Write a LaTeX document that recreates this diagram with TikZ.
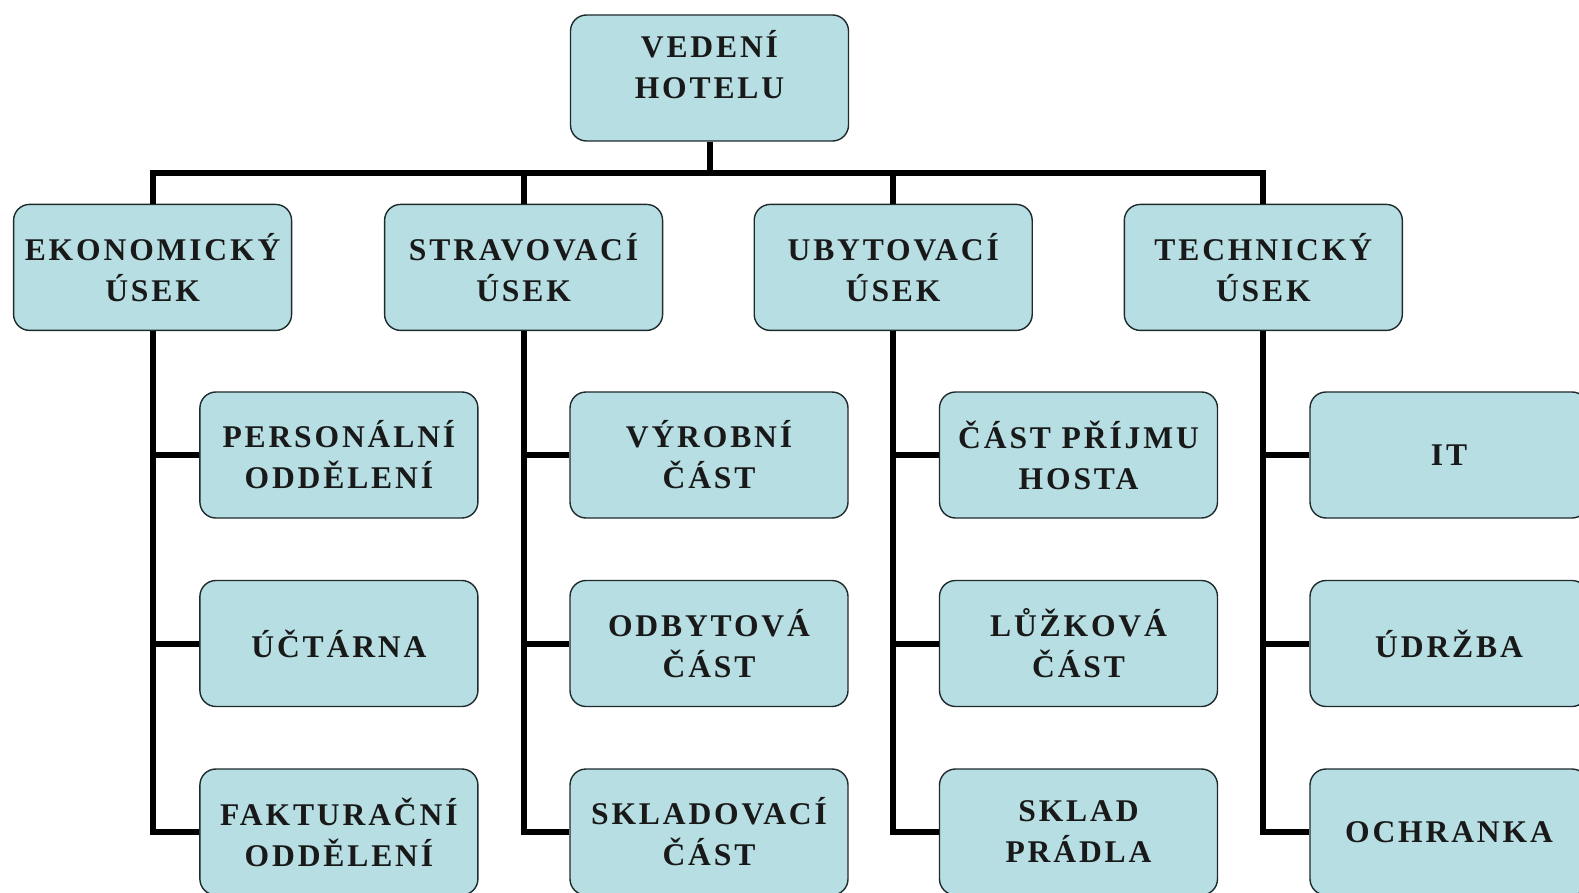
\documentclass[tikz,border=0pt]{standalone}
\usepackage{fontspec}
\newfontfamily\boxfont{Liberation Serif}[LetterSpace=9]
\definecolor{boxfill}{HTML}{B7DEE2}
\definecolor{boxline}{HTML}{1E2A2C}
\tikzset{
  box text/.style={align=center, inner sep=0pt,
    font=\boxfont\bfseries\fontsize{15.8}{20.5}\selectfont, text=black!90},
  unit box/.style={box text, draw=boxline, line width=0.7pt, fill=boxfill, rounded corners=8pt,
    minimum width=139pt, minimum height=63pt},
  link/.style={line width=3pt, draw=black}
}
\begin{document}
\begin{tikzpicture}[x=0.5pt, y=-0.5pt]
\useasboundingbox (0,0) rectangle (1579,893);
\coordinate (bus) at (0,173);
\node[unit box] (top) at (709.5,78) {};
\node[box text] (toptext) at (709.5,65) {VEDENÍ\\HOTELU};
\node[unit box] (ek) at (152.6,267.4) {EKONOMICKÝ\\ÚSEK};
\node[unit box] (st) at (523.6,267.4) {STRAVOVACÍ\\ÚSEK};
\node[unit box] (ub) at (893.2,267.4) {UBYTOVACÍ\\ÚSEK};
\node[unit box] (te) at (1263.3,267.4) {TECHNICKÝ\\ÚSEK};
\node[unit box] (ek1) at (338.9,455) {PERSONÁLNÍ\\ODDĚLENÍ};
\node[unit box] (ek2) at (338.9,643.5) {ÚČTÁRNA};
\node[unit box] (ek3) at (338.9,832) {FAKTURAČNÍ\\ODDĚLENÍ};
\node[unit box] (st1) at (709,455) {VÝROBNÍ\\ČÁST};
\node[unit box] (st2) at (709,643.5) {ODBYTOVÁ\\ČÁST};
\node[unit box] (st3) at (709,832) {SKLADOVACÍ\\ČÁST};
\node[unit box] (ub1) at (1078.5,455) {ČÁST PŘÍJMU\\HOSTA};
\node[unit box] (ub2) at (1078.5,643.5) {LŮŽKOVÁ\\ČÁST};
\node[unit box] (ub3) at (1078.5,832) {SKLAD\\PRÁDLA};
\node[unit box] (te1) at (1449,455) {IT};
\node[unit box] (te2) at (1449,643.5) {ÚDRŽBA};
\node[unit box] (te3) at (1449,832) {OCHRANKA};
% connectors
\draw[link] (top.south) -- (top.south |- bus);
\draw[link] (ek.north) -- (ek.north |- bus) -- (te.north |- bus) -- (te.north);
\draw[link] (st.north) -- (st.north |- bus);
\draw[link] (ub.north) -- (ub.north |- bus);
\foreach \p in {ek,st,ub,te}{
  \draw[link] (\p.south) |- (\p3.west);
  \draw[link] (\p.south |- \p1.west) -- (\p1.west);
  \draw[link] (\p.south |- \p2.west) -- (\p2.west);
}
\end{tikzpicture}
\end{document}
